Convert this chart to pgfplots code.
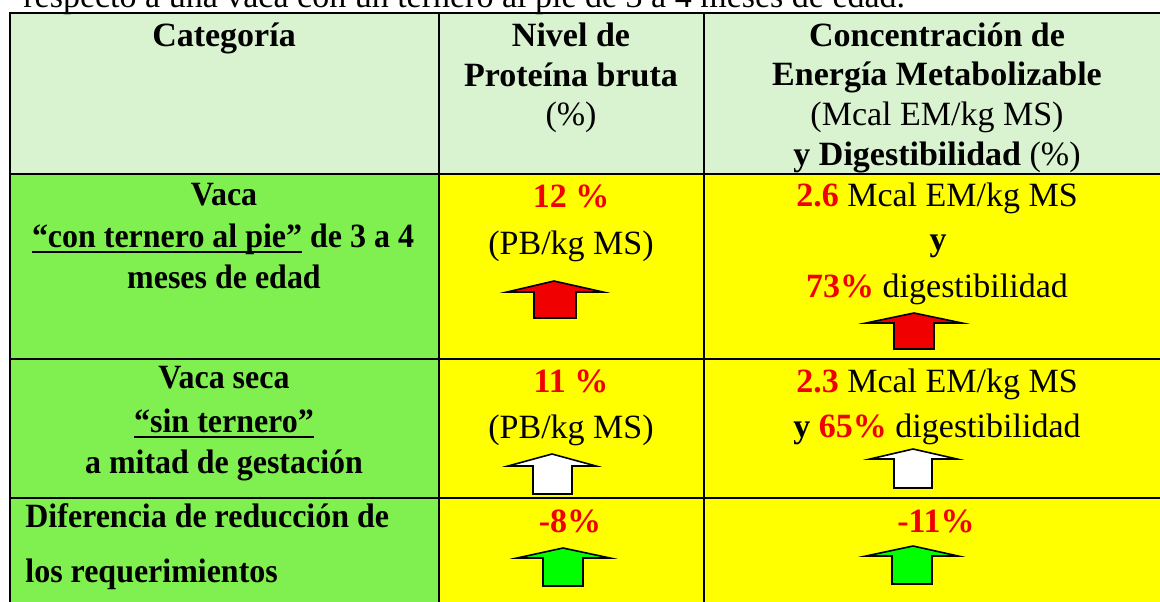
\documentclass[border=0pt]{standalone}
\usepackage{pgfplots}
\pgfplotsset{compat=1.18}
\usepackage{graphicx}
\usepackage{fontspec}
\setmainfont{Liberation Serif}
\definecolor{hdr}{RGB}{217,242,208}
\definecolor{cgreen}{RGB}{128,239,80}
\definecolor{cyel}{RGB}{255,255,0}
\definecolor{cred}{RGB}{240,0,0}
\definecolor{agreen}{RGB}{0,255,0}
\newcommand{\rd}[1]{\textcolor{cred}{\bfseries #1}}
\newcommand{\ul}[1]{\sbox0{#1}\makebox[0pt][l]{\rule[-3pt]{\wd0}{1pt}}\usebox0}
\newcommand{\cond}[1]{\scalebox{0.94}[1]{\bfseries #1}}
\begin{document}
\fontsize{17}{20}\selectfont
\begin{tikzpicture}[font=\fontsize{17}{20}\selectfont]
\begin{axis}[name=ax, scale only axis, width=580pt, height=300.5pt,
  xmin=0, xmax=1160, ymin=0, ymax=601, y dir=reverse, hide axis, clip=true,
  nodes={inner sep=0pt, font=\fontsize{17}{20}\selectfont}]
% cell fills
\addplot[fill=hdr, draw=none] coordinates {(10,13) (1180,13) (1180,174) (10,174)} --cycle;
\addplot[fill=cgreen, draw=none] coordinates {(10,174) (439,174) (439,620) (10,620)} --cycle;
\addplot[fill=cyel, draw=none] coordinates {(439,174) (1180,174) (1180,620) (439,620)} --cycle;
% grid lines
\addplot[black, line width=1.4pt] coordinates {(9,13) (1180,13)};
\addplot[black, line width=1.3pt] coordinates {(9,174) (1180,174)};
\addplot[black, line width=1.3pt] coordinates {(9,359) (1180,359)};
\addplot[black, line width=1.3pt] coordinates {(9,498) (1180,498)};
\addplot[black, line width=1.4pt] coordinates {(10,12) (10,620)};
\addplot[black, line width=1.3pt] coordinates {(439,12) (439,620)};
\addplot[black, line width=1.3pt] coordinates {(704,12) (704,620)};
% arrows
\addplot[fill=cred, draw=black, line width=0.8pt] coordinates {(534,318) (534,292) (507,292) (554,281) (603,292) (576,292) (576,318)} --cycle;
\addplot[fill=cred, draw=black, line width=0.8pt] coordinates {(894,349) (894,323) (866,323) (914,313) (962,323) (934,323) (934,349)} --cycle;
\addplot[fill=white, draw=black, line width=0.8pt] coordinates {(533,494) (533,466) (508,466) (552,454) (596,466) (572,466) (572,494)} --cycle;
\addplot[fill=white, draw=black, line width=0.8pt] coordinates {(894,488) (894,459) (870,459) (913,449) (957,459) (932,459) (932,488)} --cycle;
\addplot[fill=agreen, draw=black, line width=0.8pt] coordinates {(543,586) (543,558) (517,558) (563,548) (610,558) (583,558) (583,586)} --cycle;
\addplot[fill=agreen, draw=black, line width=0.8pt] coordinates {(892,584) (892,556) (866,556) (913,546) (958,556) (932,556) (932,584)} --cycle;
% caption (cut at top)
\node[anchor=base west] at (axis cs:23,7) {respecto a una vaca con un ternero al pie de 3 a 4 meses de edad.};
% header
\node[anchor=base] at (axis cs:224,46) {\bfseries Categoría};
\node[anchor=base] at (axis cs:571,46) {\bfseries Nivel de};
\node[anchor=base] at (axis cs:571,86) {\bfseries Proteína bruta};
\node[anchor=base] at (axis cs:571,125) {(\%)};
\node[anchor=base] at (axis cs:937,46) {\bfseries Concentración de};
\node[anchor=base] at (axis cs:937,85) {\bfseries Energía Metabolizable};
\node[anchor=base] at (axis cs:937,125) {(Mcal EM/kg MS)};
\node[anchor=base] at (axis cs:937,165) {\textbf{y Digestibilidad} (\%)};
% row 1
\node[anchor=base] at (axis cs:224,205) {\cond{Vaca}};
\node[anchor=base] at (axis cs:223,247) {\cond{\ul{“con ternero al pie”} de 3 a 4}};
\node[anchor=base] at (axis cs:224,288) {\cond{meses de edad}};
\node[anchor=base] at (axis cs:571,207) {\rd{12 \%}};
\node[anchor=base] at (axis cs:571,254) {(PB/kg MS)};
\node[anchor=base] at (axis cs:937,206) {\rd{2.6} Mcal EM/kg MS};
\node[anchor=base] at (axis cs:938,250) {\bfseries y};
\node[anchor=base] at (axis cs:937,297) {\rd{73\%} digestibilidad};
% row 2
\node[anchor=base] at (axis cs:224,388) {\cond{Vaca seca}};
\node[anchor=base] at (axis cs:224,432) {\cond{\ul{“sin ternero”}}};
\node[anchor=base] at (axis cs:224,473) {\cond{a mitad de gestación}};
\node[anchor=base] at (axis cs:571,392) {\rd{11 \%}};
\node[anchor=base] at (axis cs:571,438) {(PB/kg MS)};
\node[anchor=base] at (axis cs:937,392) {\rd{2.3} Mcal EM/kg MS};
\node[anchor=base] at (axis cs:937,437) {\textbf{y} \rd{65\%} digestibilidad};
% row 3
\node[anchor=base west] at (axis cs:25,527) {\cond{Diferencia de reducción de}};
\node[anchor=base west] at (axis cs:25,582) {\cond{los requerimientos}};
\node[anchor=base] at (axis cs:570,532) {\rd{-8\%}};
\node[anchor=base] at (axis cs:936,532) {\rd{-11\%}};
\end{axis}
\pgfresetboundingbox
\useasboundingbox (ax.south west) rectangle (ax.north east);
\end{tikzpicture}
\end{document}
